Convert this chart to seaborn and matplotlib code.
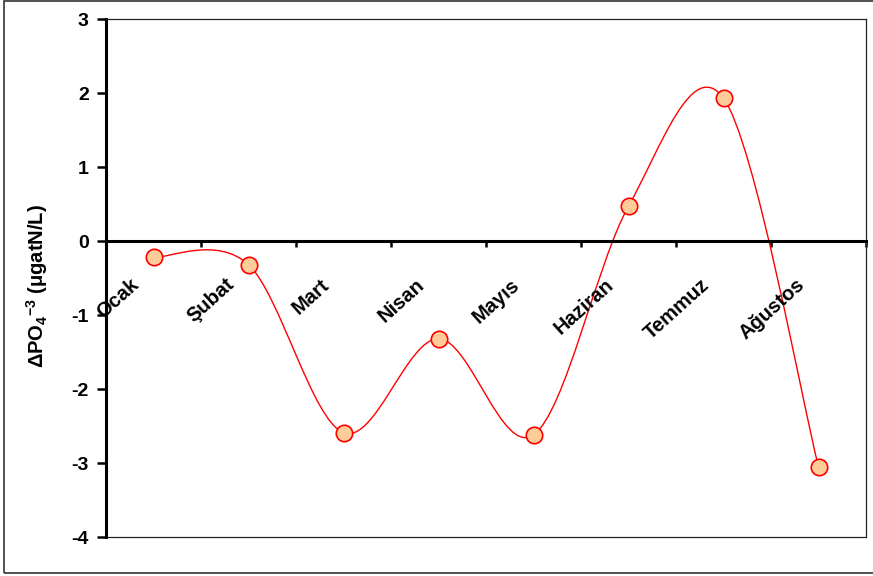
import numpy as np
import matplotlib
matplotlib.use("Agg")
import matplotlib.pyplot as plt
import seaborn as sns
from matplotlib.path import Path
from matplotlib.patches import PathPatch, Rectangle
import matplotlib.transforms as mtransforms

months = ["Ocak", "Şubat", "Mart", "Nisan", "Mayıs", "Haziran", "Temmuz", "Ağustos"]
values = [-0.22, -0.32, -2.59, -1.32, -2.62, 0.47, 1.93, -3.05]
yticks = [-4, -3, -2, -1, 0, 1, 2, 3]

sns.set_theme(style="white")
plt.rcParams["font.family"] = ["Liberation Sans", "DejaVu Sans"]
plt.rcParams["font.weight"] = "bold"
plt.rcParams["mathtext.fontset"] = "custom"
plt.rcParams["mathtext.rm"] = "Liberation Sans:bold"
plt.rcParams["mathtext.it"] = "Liberation Sans:italic:bold"
plt.rcParams["mathtext.bf"] = "Liberation Sans:bold"

W, H = 873, 576
fig = plt.figure(figsize=(W / 100, H / 100), dpi=100)
ax = fig.add_axes([106 / W, 1 - 537 / H, (866 - 106) / W, (537 - 19) / H])

x = np.arange(len(months))
pts = np.column_stack([x, values]).astype(float)
n = len(pts)
verts = [pts[0]]
codes = [Path.MOVETO]
for i in range(n - 1):
    p0 = pts[max(i - 1, 0)]
    p1 = pts[i]
    p2 = pts[i + 1]
    p3 = pts[min(i + 2, n - 1)]
    c1 = p1 + (p2 - p0) / 6.0
    c2 = p2 - (p3 - p1) / 6.0
    verts += [c1, c2, p2]
    codes += [Path.CURVE4] * 3
ax.add_patch(PathPatch(Path(verts, codes), fill=False, edgecolor="#FF0000", lw=1.0, zorder=2))

sns.scatterplot(x=x, y=values, ax=ax, s=140, color="#FFCC99", edgecolor="#FF0000",
                linewidth=1.2, zorder=3, legend=False)

ax.set_xlim(-0.5, len(months) - 0.5)
ax.set_ylim(-4, 3)
ax.set_yticks(yticks)
ax.set_yticklabels([str(t) for t in yticks], fontsize=14, fontweight="bold")
ax.set_xticks(np.arange(-0.5, len(months), 1.0))
ax.set_xticklabels([])

ax.spines["bottom"].set_position(("data", 0))
ax.spines["bottom"].set_linewidth(2.2)
ax.spines["bottom"].set_color("black")
ax.spines["left"].set_linewidth(2.2)
ax.spines["left"].set_color("black")
for s in ["top", "right"]:
    ax.spines[s].set_linewidth(0.9)
    ax.spines[s].set_color("#222222")
ax.axhline(-4, color="#222222", lw=0.9, clip_on=False, zorder=1)

ax.tick_params(axis="y", direction="out", length=6.5, width=1.8, pad=6, colors="black", left=True)
ax.tick_params(axis="x", direction="out", length=4.3, width=1.8, colors="black", bottom=True)
ax.grid(False)

trans = mtransforms.offset_copy(ax.transData, fig=fig, x=-17, y=-41, units="dots")
for i, m in enumerate(months):
    ax.text(i, 0, m, transform=trans, rotation=42, rotation_mode="anchor",
            ha="right", va="center", fontsize=14.5, fontweight="bold", color="black")

ax.set_ylabel(r"ΔPO$_4$$^{-3}$ (μgatN/L)", fontsize=14.5, fontweight="bold", color="black")
ax.yaxis.set_label_coords(-0.074, 0.485)

fig.patches.append(Rectangle((4 / W, 3 / H), 2, 572 / H, transform=fig.transFigure,
                             fill=False, edgecolor="#333333", lw=1.2))

fig.savefig("out.png", dpi=100)
